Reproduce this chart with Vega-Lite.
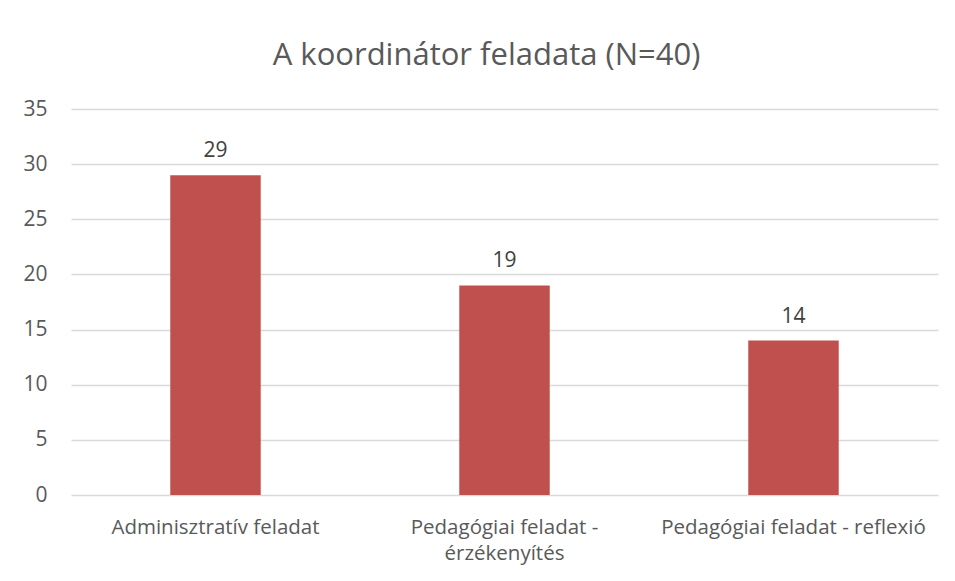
{
  "$schema": "https://vega.github.io/schema/vega-lite/v6.json",
  "autosize": "none",
  "width": 867,
  "height": 386,
  "padding": {"left": 71, "top": 109, "right": 17, "bottom": 86},
  "background": "white",
  "config": {
    "view": {"stroke": null},
    "font": "Open Sans"
  },
  "title": {
    "text": "A koordinátor feladata (N=40)",
    "fontSize": 31,
    "fontWeight": "normal",
    "color": "#595959",
    "font": "Open Sans",
    "anchor": "middle",
    "baseline": "alphabetic",
    "offset": 2,
    "dx": -18
  },
  "data": {
    "values": [
      {"category": "Adminisztratív feladat", "value": 29},
      {"category": "Pedagógiai feladat - érzékenyítés", "value": 19},
      {"category": "Pedagógiai feladat - reflexió", "value": 14}
    ]
  },
  "encoding": {
    "x": {
      "field": "category",
      "type": "nominal",
      "sort": null,
      "scale": {"paddingInner": 0.687, "paddingOuter": 0.3435},
      "axis": {
        "title": null,
        "labelAngle": 0,
        "labelFont": "Open Sans",
        "labelFontSize": 20.5,
        "labelColor": "#595959",
        "labelPadding": 38,
        "labelLineHeight": 26,
        "labelLimit": 400,
        "labelBaseline": "alphabetic",
        "ticks": false,
        "domain": false,
        "labelExpr": "datum.label == 'Pedagógiai feladat - érzékenyítés' ? ['Pedagógiai feladat -', 'érzékenyítés'] : datum.label"
      }
    },
    "y": {
      "field": "value",
      "type": "quantitative",
      "scale": {"domain": [0, 35], "nice": false},
      "axis": {
        "title": null,
        "values": [0, 5, 10, 15, 20, 25, 30, 35],
        "labelFont": "Open Sans",
        "labelFontSize": 21,
        "labelColor": "#595959",
        "labelPadding": 24,
        "ticks": false,
        "domain": false,
        "gridColor": "#D9D9D9",
        "gridWidth": 1.3
      }
    }
  },
  "layer": [
    {"mark": {"type": "bar", "color": "#C0504D"}},
    {
      "mark": {"type": "text", "baseline": "alphabetic", "dy": -18, "fontSize": 21, "font": "Open Sans", "color": "#404040"},
      "encoding": {"text": {"field": "value", "type": "quantitative"}}
    }
  ]
}
